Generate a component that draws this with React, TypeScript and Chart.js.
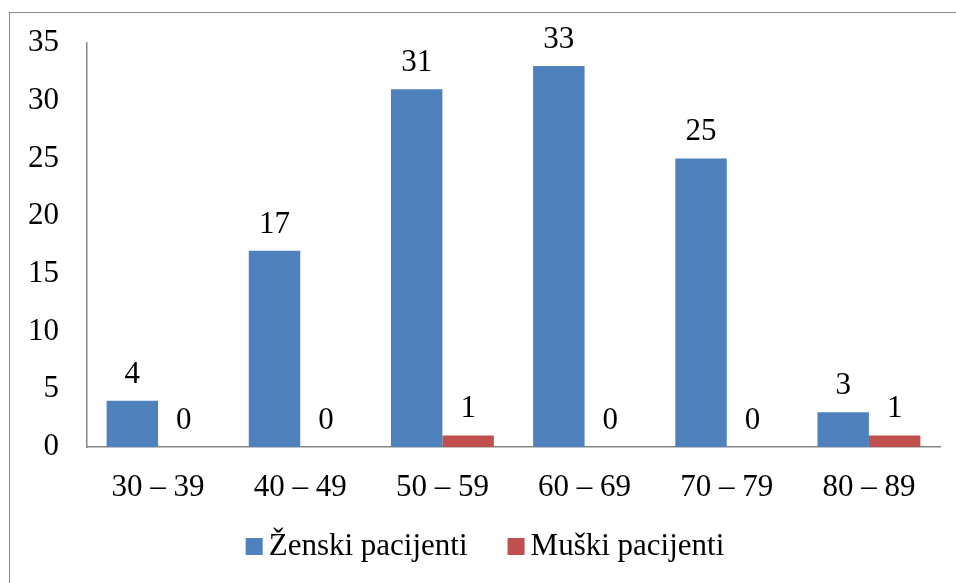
import React, { useEffect, useRef } from "react";
import { Chart, registerables } from "chart.js";

Chart.register(...registerables);

const categories = ["30 – 39", "40 – 49", "50 – 59", "60 – 69", "70 – 79", "80 – 89"];
const zenskiValues = [4, 17, 31, 33, 25, 3];
const muskiValues = [0, 0, 1, 0, 0, 1];
const seriesNames = ["Ženski pacijenti", "Muški pacijenti"];
const seriesColors = ["#4F81BD", "#C0504D"];
const yTicks = [0, 5, 10, 15, 20, 25, 30, 35];

const FONT_FAMILY = "'Liberation Serif', 'Times New Roman', serif";
const FONT_SIZE = 31;
const AXIS_COLOR = "#868686";

const valueLabels = {
  id: "valueLabels",
  afterDatasetsDraw(chart: any) {
    const ctx = chart.ctx;
    ctx.save();
    ctx.font = `${FONT_SIZE}px ${FONT_FAMILY}`;
    ctx.fillStyle = "#000";
    ctx.textAlign = "center";
    ctx.textBaseline = "alphabetic";
    chart.data.datasets.forEach((ds: any, i: number) => {
      const meta = chart.getDatasetMeta(i);
      meta.data.forEach((el: any, j: number) => {
        ctx.fillText(String(ds.data[j]), el.x, el.y - 18);
      });
    });
    ctx.restore();
  },
};

const bottomLegend = {
  id: "bottomLegend",
  afterDraw(chart: any) {
    const ctx = chart.ctx;
    ctx.save();
    ctx.font = `${FONT_SIZE}px ${FONT_FAMILY}`;
    const box = 17;
    const gapBoxText = 6;
    const gapItems = 40;
    const items = chart.data.datasets.map((ds: any) => ({
      text: ds.label,
      color: ds.backgroundColor,
      w: box + gapBoxText + ctx.measureText(ds.label).width,
    }));
    const total = items.reduce((a: number, it: any) => a + it.w, 0) + gapItems * (items.length - 1);
    let x = 485 - total / 2;
    const baseline = 555;
    items.forEach((it: any) => {
      ctx.fillStyle = it.color;
      ctx.fillRect(x, baseline - box, box, box);
      ctx.fillStyle = "#000";
      ctx.textAlign = "left";
      ctx.textBaseline = "alphabetic";
      ctx.fillText(it.text, x + box + gapBoxText, baseline);
      x += it.w + gapItems;
    });
    ctx.restore();
  },
};

export default function App() {
  const ref = useRef<HTMLCanvasElement>(null);
  useEffect(() => {
    if (!ref.current) return;
    const chart = new Chart(ref.current, {
      type: "bar",
      data: {
        labels: categories,
        datasets: [
          { label: seriesNames[0], data: zenskiValues, backgroundColor: seriesColors[0] },
          { label: seriesNames[1], data: muskiValues, backgroundColor: seriesColors[1] },
        ],
      },
      options: {
        animation: false,
        responsive: true,
        maintainAspectRatio: false,
        layout: { padding: { top: 43, right: 16, left: 0, bottom: 71 } },
        datasets: { bar: { categoryPercentage: 0.724, barPercentage: 1 } },
        scales: {
          x: {
            grid: { display: false, drawTicks: false },
            border: { color: AXIS_COLOR, width: 1.5 },
            ticks: { color: "#000", font: { family: FONT_FAMILY, size: FONT_SIZE }, padding: 22, maxRotation: 0 },
            afterFit: (s: any) => { s.height = 65; },
          },
          y: {
            min: 0,
            max: 35,
            grid: { display: false, drawTicks: false },
            border: { color: AXIS_COLOR, width: 1.5 },
            afterBuildTicks: (s: any) => { s.ticks = yTicks.map((v) => ({ value: v })); },
            ticks: { color: "#000", font: { family: FONT_FAMILY, size: FONT_SIZE }, padding: 28, stepSize: 5 },
            afterFit: (s: any) => {
              s.width = 87;
              s.paddingTop = 0;
              s.paddingBottom = 0;
            },
          },
        },
        plugins: {
          legend: { display: false },
          tooltip: { enabled: false },
        },
      },
      plugins: [valueLabels, bottomLegend],
    });
    return () => chart.destroy();
  }, []);
  return (
    <div style={{ position: "fixed", left: 0, top: 0, width: 956, height: 583, background: "#fff" }}>
      <div
        style={{
          position: "absolute",
          left: 9,
          top: 12,
          right: -2,
          bottom: -2,
          border: "1.5px solid #888",
        }}
      />
      <div style={{ position: "absolute", left: 0, top: 0, width: 956, height: 583 }}>
        <canvas ref={ref} />
      </div>
    </div>
  );
}
